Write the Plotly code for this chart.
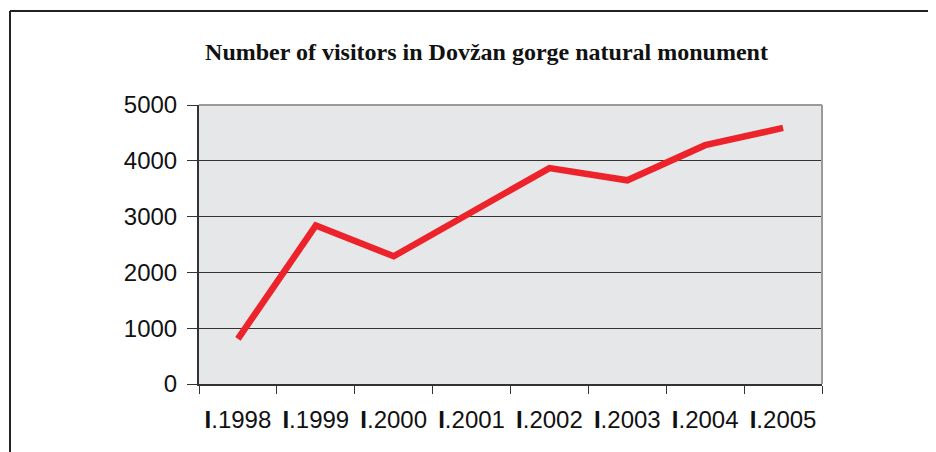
import plotly.graph_objects as go

categories = ["1998", "1999", "2000", "2001", "2002", "2003", "2004", "2005"]
tick_labels = ["<b>I</b>.1998", "<b>I</b>.1999", "<b>I</b>.2000", "<b>I</b>.2001",
               "<b>I</b>.2002", "<b>I</b>.2003", "<b>I</b>.2004", "<b>I</b>.2005"]
visitors = [810, 2840, 2290, 3080, 3870, 3650, 4280, 4590]

fig = go.Figure()
fig.add_trace(go.Scatter(
    x=categories, y=visitors, mode="lines",
    line=dict(color="#ec232b", width=6.5),
    hoverinfo="x+y", showlegend=False,
))

# page body has an 8px offset; work in figure pixel coordinates
OFF = 8
W, H = 936 - OFF, 452 - OFF
L, R, T, B = 199 - OFF, 822 - OFF, 105 - OFF, 384 - OFF
pw, ph = R - L, B - T

def px_x(v):
    return (v - OFF - L) / pw

def px_y(v):
    return (B - (v - OFF)) / ph

fig.update_layout(
    width=W, height=H,
    margin=dict(l=L, r=W - R, t=T, b=H - B, pad=0),
    paper_bgcolor="white",
    plot_bgcolor="#e6e7e8",
    title=dict(
        text="<b>Number of visitors in Dovžan gorge natural monument</b>",
        font=dict(family="Liberation Serif, Times New Roman, serif", size=24, color="#111"),
        x=(486.5 - OFF) / W, xanchor="center", xref="container",
        y=1 - (52 - OFF) / H, yanchor="middle", yref="container",
    ),
    xaxis=dict(
        type="category",
        tickvals=categories, ticktext=tick_labels,
        tickson="boundaries",
        ticks="outside", ticklen=8, tickwidth=1.2, tickcolor="#333",
        ticklabelstandoff=13,
        showgrid=False,
        showline=True, linecolor="#333", linewidth=2,
        tickfont=dict(family="Liberation Sans, Arial, sans-serif", size=24, color="#111"),
        range=[-0.5, 7.5],
    ),
    yaxis=dict(
        range=[0, 5000], tick0=0, dtick=1000,
        ticks="outside", ticklen=10, tickwidth=1.2, tickcolor="#333",
        ticklabelstandoff=5,
        showgrid=True, gridcolor="#333", gridwidth=1,
        zeroline=False,
        showline=True, linecolor="#333", linewidth=2,
        tickfont=dict(family="Liberation Sans, Arial, sans-serif", size=24, color="#111"),
    ),
    shapes=[
        dict(type="line", xref="paper", yref="paper", x0=0, x1=1, y0=1, y1=1,
             line=dict(color="#9a9a9a", width=2), layer="above"),
        dict(type="line", xref="paper", yref="paper", x0=1, x1=1, y0=0, y1=1,
             line=dict(color="#9a9a9a", width=2), layer="above"),
        dict(type="line", xref="paper", yref="paper",
             x0=px_x(10), x1=px_x(10), y0=px_y(11), y1=px_y(460),
             line=dict(color="#222", width=2)),
        dict(type="line", xref="paper", yref="paper",
             x0=px_x(10), x1=px_x(945), y0=px_y(11), y1=px_y(11),
             line=dict(color="#222", width=2)),
    ],
)

fig.write_html("out.html")
